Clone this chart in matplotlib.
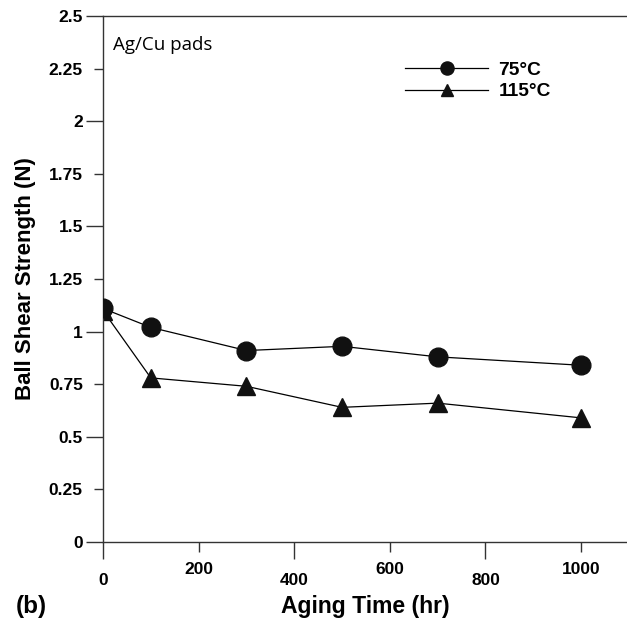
import matplotlib.pyplot as plt
from matplotlib.ticker import FixedLocator, FixedFormatter

# aging time (hr) and ball shear strength (N)
aging_time = [0, 100, 300, 500, 700, 1000]
strength_75 = [1.11, 1.02, 0.91, 0.93, 0.88, 0.84]
strength_115 = [1.10, 0.78, 0.74, 0.64, 0.66, 0.59]

x_major = [0, 400, 800]
x_minor = [200, 600, 1000]
y_major = [0, 0.5, 1, 1.5, 2, 2.5]
y_minor = [0.25, 0.75, 1.25, 1.75, 2.25]

plt.rcParams['font.family'] = ['Liberation Sans', 'DejaVu Sans']

fig = plt.figure(figsize=(6.27, 6.23), dpi=100)
ax = fig.add_axes([103 / 627, 1 - 542 / 623, 524 / 627, 526 / 623])

ax.plot(aging_time, strength_75, color='black', lw=0.9, marker='o', ms=13.5,
        mfc='#111111', mec='#111111', label='75°C', zorder=3)
ax.plot(aging_time, strength_115, color='black', lw=0.9, marker='^', ms=13,
        mfc='#111111', mec='#111111', label='115°C', zorder=2)

ax.set_xlim(0, 1096)
ax.set_ylim(0, 2.5)

for side in ['left', 'bottom', 'top']:
    ax.spines[side].set_linewidth(1.0)
    ax.spines[side].set_color('#333333')
ax.spines['right'].set_visible(False)

ax.xaxis.set_major_locator(FixedLocator(x_major))
ax.xaxis.set_major_formatter(FixedFormatter([str(v) for v in x_major]))
ax.xaxis.set_minor_locator(FixedLocator(x_minor))
ax.xaxis.set_minor_formatter(FixedFormatter([str(v) for v in x_minor]))

ax.yaxis.set_major_locator(FixedLocator(y_major))
ax.yaxis.set_major_formatter(FixedFormatter(['0', '0.5', '1', '1.5', '2', '2.5']))
ax.yaxis.set_minor_locator(FixedLocator(y_minor))
ax.yaxis.set_minor_formatter(FixedFormatter(['0.25', '0.75', '1.25', '1.75', '2.25']))

ax.tick_params(axis='x', which='major', direction='out', length=12.2, width=1.0,
               color='#333333', pad=10, labelsize=12.5)
ax.tick_params(axis='x', which='minor', direction='out', length=7.2, width=1.0,
               color='#333333', pad=7.5, labelsize=12.5)
ax.tick_params(axis='y', which='major', direction='out', length=12.2, width=1.0,
               color='#333333', pad=2.2, labelsize=12.5)
ax.tick_params(axis='y', which='minor', direction='out', length=6.5, width=1.0,
               color='#333333', pad=8, labelsize=12.5)
for lab in ax.get_xticklabels(which='both') + ax.get_yticklabels(which='both'):
    lab.set_fontweight('bold')

ax.set_xlabel('Aging Time (hr)', fontsize=16.5, fontweight='bold', labelpad=5)
ax.set_ylabel('Ball Shear Strength (N)', fontsize=16, fontweight='bold', labelpad=9)

ax.text(0.02, 0.945, 'Ag/Cu pads', transform=ax.transAxes, fontsize=13.5,
        family=['Open Sans', 'DejaVu Sans'], va='center', ha='left')

leg = ax.legend(loc='upper left', bbox_to_anchor=(0.576, 0.913), frameon=False,
                handlelength=4.35, handletextpad=0.54, labelspacing=0.2,
                borderpad=0, borderaxespad=0, markerscale=0.7,
                prop={'weight': 'bold', 'size': 13.8})

fig.text(31 / 627, 1 - 606 / 623, '(b)', fontsize=17.5, fontweight='bold',
         ha='center', va='center')

fig.savefig('out.png', dpi=100)
